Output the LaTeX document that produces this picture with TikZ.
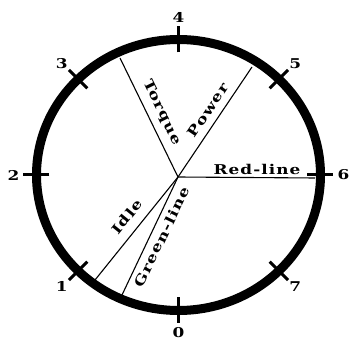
\documentclass[tikz,border=0pt]{standalone}
\usepackage{fontspec}
\newfontfamily\dialfont{DejaVu Serif}[FakeStretch=1.25, LetterSpace=8]
\usetikzlibrary{calc}

\begin{document}
\begin{tikzpicture}[
  x=1pt, y=1pt,
  rim/.style={line width=9pt},
  ticmark/.style={line width=3pt},
  spoke/.style={line width=1.1pt},
  dial/.style={font=\dialfont\bfseries\fontsize{13.5}{15}\selectfont, inner sep=1pt}
]
\useasboundingbox (-178,-165) rectangle (171,177);
\draw[rim] (0.5,2) ellipse [x radius=142, y radius=135.5];
\foreach \n in {0,...,7} {
  \pgfmathsetmacro{\ang}{-90-45*\n}
  \draw[ticmark] ([shift={(0.5,2)}]\ang:129 and 122.5) -- ([shift={(0.5,2)}]\ang:155 and 148.5);
  \node[dial] (n\n) at ([shift={(0.5,2)}]\ang:165 and 158) {\n};
}
\coordinate (hub) at (0,0);
\coordinate (torque) at (-58,119);
\coordinate (power) at (74,110);
\coordinate (redline) at (137,-1);
\coordinate (idle) at (-83,-103);
\coordinate (greenline) at (-56,-118);
\draw[spoke] (hub) -- (torque);
\draw[spoke] (hub) -- (power);
\draw[spoke] (hub) -- (redline);
\draw[spoke] (hub) -- (idle);
\draw[spoke] (hub) -- (greenline);
\node[dial, rotate=-64] (torquelbl) at (-16,64.5) {Torque};
\node[dial, rotate=56] (powerlbl) at (30,67) {Power};
\node[dial] (redlbl) at (79,8) {Red-line};
\node[dial, rotate=51] (idlelbl) at (-51,-40) {Idle};
\node[dial, rotate=64] (greenlbl) at (-16,-60) {Green-line};
\end{tikzpicture}
\end{document}
